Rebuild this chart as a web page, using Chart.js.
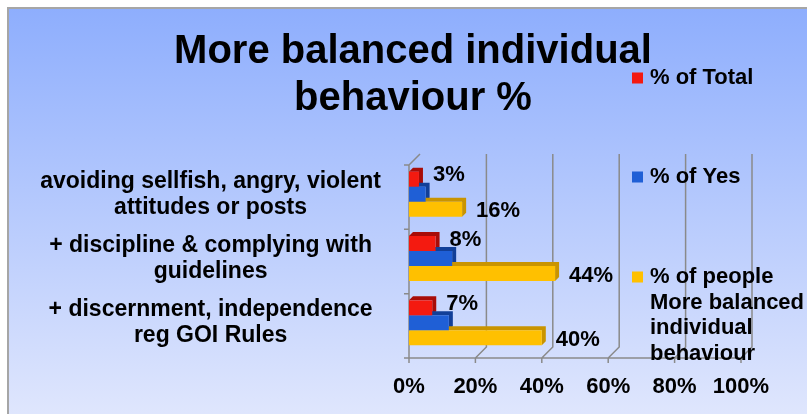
<!DOCTYPE html>
<html>
<head>
<meta charset="utf-8">
<script src="https://cdn.jsdelivr.net/npm/chart.js@4.4.1/dist/chart.umd.min.js"></script>
<style>
html, body { margin: 0; padding: 0; background: #fff; }
canvas { display: block; }
</style>
</head>
<body>
<canvas id="canvas" width="807" height="414"></canvas>
<script>
// data
const categories = [
  ['avoiding sellfish, angry, violent', 'attitudes or posts'],
  ['+ discipline & complying with', 'guidelines'],
  ['+ discernment, independence', 'reg GOI Rules']
];
const seriesNames = [
  ['% of Total'],
  ['% of Yes'],
  ['% of people', 'More balanced', 'individual', 'behaviour']
];
const pctTotal = [3, 8, 7];
const pctYes = [5, 13, 12];
const pctPeople = [16, 44, 40];
const xTicks = [0, 20, 40, 60, 80, 100];
const titleLines = ['More balanced individual', 'behaviour %'];

const FONT = '"Liberation Sans", Arial, sans-serif';
const fronts = ['#f41a10', '#1f5fd6', '#ffc000'];
const sides = ['#a80c08', '#123f98', '#c99400'];
const showLabel = [true, false, true];
const depth = 4;   // bar extrusion
const wall = 11;   // back wall offset

const look = {
  id: 'look',
  beforeDraw(chart) {
    const c = chart.ctx, w = chart.width, h = chart.height;
    c.save();
    c.fillStyle = '#fff';
    c.fillRect(0, 0, w, h);
    const g = c.createLinearGradient(0, 9, 0, h);
    g.addColorStop(0, '#8eaefd');
    g.addColorStop(1, '#dfe6fd');
    c.fillStyle = g;
    c.fillRect(9, 9, w - 9, h - 9);
    c.fillStyle = '#a6a6a6';
    c.fillRect(7, 7, w - 7, 2);
    c.fillRect(7, 7, 2, h - 7);
    c.restore();
  },
  beforeDatasetsDraw(chart) {
    const c = chart.ctx, xs = chart.scales.x, ys = chart.scales.y, a = chart.chartArea;
    const top = a.top + 3, bot = a.bottom + 3;
    const x0 = xs.getPixelForValue(0);
    c.save();
    c.strokeStyle = '#8a8a8a';
    c.lineWidth = 1.5;
    c.beginPath();
    // left wall front edge + top diagonal
    c.moveTo(x0 + wall, top - wall);
    c.lineTo(x0, top);
    c.lineTo(x0, bot);
    // floor front edge
    c.lineTo(xs.getPixelForValue(100), bot);
    // left ticks at category boundaries
    for (let i = 0; i <= categories.length; i++) {
      const y = top + i * (bot - top) / categories.length;
      c.moveTo(x0 - 5, y);
      c.lineTo(x0, y);
    }
    // back wall gridlines and floor ticks
    xTicks.forEach(v => {
      const x = xs.getPixelForValue(v);
      if (v > 0) {
        c.moveTo(x + wall, top - wall);
        c.lineTo(x + wall, bot - wall);
        c.lineTo(x, bot);
      }
      c.moveTo(x, bot);
      c.lineTo(x, bot + 5);
    });
    c.stroke();

    // 3d faces of the bars
    chart.data.datasets.forEach((ds, i) => {
      chart.getDatasetMeta(i).data.forEach(el => {
        const p = el.getProps(['x', 'y', 'base', 'height'], true);
        const t = p.y - p.height / 2, b = p.y + p.height / 2;
        c.fillStyle = sides[i];
        c.beginPath();
        c.moveTo(p.base, t);
        c.lineTo(p.base + depth, t - depth);
        c.lineTo(p.x + depth, t - depth);
        c.lineTo(p.x + depth, b - depth);
        c.lineTo(p.x, b);
        c.lineTo(p.x, t);
        c.closePath();
        c.fill();
      });
    });
    c.restore();
  },
  afterDatasetsDraw(chart) {
    const c = chart.ctx;
    c.save();
    c.font = 'bold 22px ' + FONT;
    c.fillStyle = '#000';
    c.textBaseline = 'middle';
    c.textAlign = 'left';
    chart.data.datasets.forEach((ds, i) => {
      if (!showLabel[i]) return;
      chart.getDatasetMeta(i).data.forEach((el, j) => {
        const p = el.getProps(['x', 'y'], true);
        c.fillText(ds.data[j] + '%', p.x + 14, p.y + (i === 0 ? -4 : 2));
      });
    });
    c.restore();
  },
  afterDraw(chart) {
    const c = chart.ctx;
    c.save();
    c.fillStyle = '#000';
    c.textAlign = 'center';
    c.textBaseline = 'alphabetic';
    c.font = 'bold 40px ' + FONT;
    c.fillText(titleLines[0], 413, 63);
    c.fillText(titleLines[1], 413, 110);

    // legend
    const itemY = [78, 177, 277];
    c.textAlign = 'left';
    c.textBaseline = 'middle';
    c.font = 'bold 22px ' + FONT;
    seriesNames.forEach((lines, i) => {
      c.fillStyle = fronts[i];
      c.fillRect(632, itemY[i] - 5.5, 11, 11);
      c.fillStyle = '#000';
      lines.forEach((ln, k) => c.fillText(ln, 650, itemY[i] + k * 25.5));
    });
    c.restore();
  }
};

const seriesValues = [pctTotal, pctYes, pctPeople];

new Chart(document.getElementById('canvas').getContext('2d'), {
  type: 'bar',
  data: {
    labels: categories,
    datasets: seriesValues.map((vals, i) => ({
      label: seriesNames[i].join(' '),
      data: vals,
      backgroundColor: fronts[i],
      borderWidth: 0,
      categoryPercentage: 0.7,
      barPercentage: 1
    }))
  },
  options: {
    indexAxis: 'y',
    responsive: false,
    animation: false,
    layout: { padding: { top: 162, bottom: 9, left: 9, right: 66 } },
    plugins: {
      legend: { display: false },
      title: { display: false },
      tooltip: { enabled: false }
    },
    scales: {
      x: {
        min: 0,
        max: 100,
        afterBuildTicks: s => { s.ticks = xTicks.map(v => ({ value: v })); },
        afterFit: s => { s.height = 50; },
        ticks: {
          callback: v => v + '%',
          color: '#000',
          font: { family: FONT, size: 22, weight: 'bold' },
          padding: 19,
          maxRotation: 0,
          autoSkip: false
        },
        grid: { display: false, drawTicks: false },
        border: { display: false }
      },
      y: {
        afterFit: s => { s.width = 400; },
        ticks: {
          color: '#000',
          font: { family: FONT, size: 23, weight: 'bold', lineHeight: 1.13 },
          crossAlign: 'center',
          padding: 28
        },
        grid: { display: false, drawTicks: false },
        border: { display: false }
      }
    }
  },
  plugins: [look]
});
</script>
</body>
</html>
